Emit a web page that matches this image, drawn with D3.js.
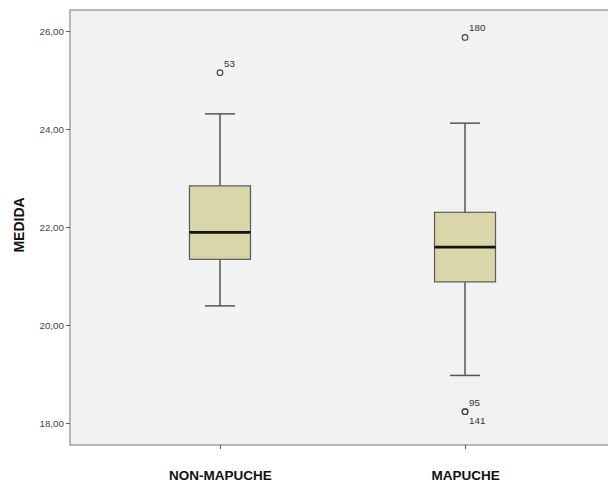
<!DOCTYPE html>
<html>
<head>
<meta charset="utf-8">
<script src="https://cdn.jsdelivr.net/npm/d3@7"></script>
<style>
  html, body { margin: 0; padding: 0; background: #ffffff; }
  svg { display: block; font-family: Arial, "Liberation Sans", sans-serif; }
</style>
</head>
<body>
<svg id="chart" width="608" height="482"></svg>
<script>
// Box-plot summaries of MEDIDA per group
const categories = ["NON-MAPUCHE", "MAPUCHE"];
const whiskerLow  = [20.39, 18.97];
const q1          = [21.34, 20.88];
const median      = [21.89, 21.59];
const q3          = [22.84, 22.30];
const whiskerHigh = [24.31, 24.12];

// Outlying cases: group, value, case number
const outlierGroup = ["NON-MAPUCHE", "MAPUCHE", "MAPUCHE", "MAPUCHE"];
const outlierValue = [25.15, 25.87, 18.23, 18.23];
const outlierCase  = ["53", "180", "95", "141"];

const yTicks = [18, 20, 22, 24, 26];
const yTitle = "MEDIDA";

const svg = d3.select("#chart");
const frame = { left: 70, right: 615, top: 10, bottom: 445 };

const y = d3.scaleLinear().domain([17.55, 26.43]).range([frame.bottom, frame.top]);
const x = d3.scalePoint().domain(categories).range([frame.left, frame.right]).padding(0.612);

// plot area (right side runs past the page edge)
svg.append("rect")
  .attr("x", frame.left).attr("y", frame.top)
  .attr("width", 700 - frame.left).attr("height", frame.bottom - frame.top)
  .attr("fill", "#f2f2f2").attr("stroke", "#8c8c8c").attr("stroke-width", 1.2);

// y axis
const fmt = d => d3.format(".2f")(d).replace(".", ",");
const yAxis = svg.append("g")
  .attr("transform", `translate(${frame.left},0)`)
  .call(d3.axisLeft(y).tickValues(yTicks).tickSize(4).tickPadding(2).tickFormat(fmt));
yAxis.select(".domain").remove();
yAxis.selectAll(".tick line").attr("stroke", "#555");
yAxis.selectAll(".tick text").attr("fill", "#444").attr("font-size", 9.8)
  .attr("font-family", "Arial, 'Liberation Sans', sans-serif");

// x axis
const xAxis = svg.append("g")
  .attr("transform", `translate(0,${frame.bottom})`)
  .call(d3.axisBottom(x).tickSize(4).tickPadding(21));
xAxis.select(".domain").remove();
xAxis.selectAll(".tick line").attr("stroke", "#555");
xAxis.selectAll(".tick text").attr("fill", "#111").attr("font-size", 13.5)
  .attr("font-weight", "bold").attr("font-family", "Arial, 'Liberation Sans', sans-serif");

// y title
svg.append("text")
  .attr("transform", `translate(19,${y(22) - 2}) rotate(-90)`)
  .attr("text-anchor", "middle").attr("dominant-baseline", "central")
  .attr("font-size", 14).attr("font-weight", "bold").attr("fill", "#111")
  .text(yTitle);

// boxes
const boxW = 61, capW = 30;
const stats = categories.map((c, i) => ({
  c, lo: whiskerLow[i], q1: q1[i], med: median[i], q3: q3[i], hi: whiskerHigh[i]
}));
const g = svg.append("g").selectAll("g").data(stats).join("g")
  .attr("transform", d => `translate(${x(d.c)},0)`);

g.append("line").attr("x1", 0).attr("x2", 0)
  .attr("y1", d => y(d.hi)).attr("y2", d => y(d.q3))
  .attr("stroke", "#555").attr("stroke-width", 1.5);
g.append("line").attr("x1", 0).attr("x2", 0)
  .attr("y1", d => y(d.q1)).attr("y2", d => y(d.lo))
  .attr("stroke", "#555").attr("stroke-width", 1.5);
g.append("line").attr("x1", -capW / 2).attr("x2", capW / 2)
  .attr("y1", d => y(d.hi)).attr("y2", d => y(d.hi))
  .attr("stroke", "#555").attr("stroke-width", 1.5);
g.append("line").attr("x1", -capW / 2).attr("x2", capW / 2)
  .attr("y1", d => y(d.lo)).attr("y2", d => y(d.lo))
  .attr("stroke", "#555").attr("stroke-width", 1.5);
g.append("rect")
  .attr("x", -boxW / 2).attr("width", boxW)
  .attr("y", d => y(d.q3)).attr("height", d => y(d.q1) - y(d.q3))
  .attr("fill", "#d9d6a9").attr("stroke", "#5a5a5a").attr("stroke-width", 1.2);
g.append("line").attr("x1", -boxW / 2).attr("x2", boxW / 2)
  .attr("y1", d => y(d.med)).attr("y2", d => y(d.med))
  .attr("stroke", "#111").attr("stroke-width", 2.6);

// outliers
const outliers = outlierValue.map((v, i) => ({ g: outlierGroup[i], v, id: outlierCase[i] }));
svg.append("g").selectAll("circle").data(outliers).join("circle")
  .attr("cx", d => x(d.g)).attr("cy", d => y(d.v)).attr("r", 2.8)
  .attr("fill", "none").attr("stroke", "#444").attr("stroke-width", 1.2);

// case labels: the two coincident low outliers are stacked above and below
svg.append("g").selectAll("text").data(outliers).join("text")
  .attr("x", d => x(d.g) + 4)
  .attr("y", d => {
    const dup = outliers.filter(o => o.g === d.g && o.v === d.v);
    if (dup.length > 1 && dup.indexOf(d) > 0) return y(d.v) + 12;
    return y(d.v) - 6;
  })
  .attr("font-size", 9.8).attr("fill", "#333")
  .text(d => d.id);
</script>
</body>
</html>
